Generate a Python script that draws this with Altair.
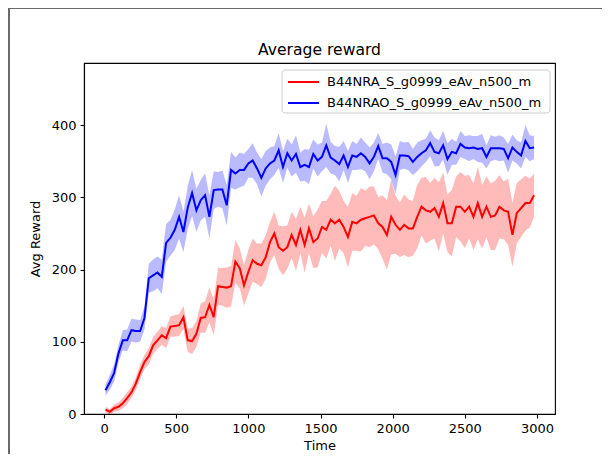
import altair as alt
import pandas as pd

# sample times (regular evaluation grid)
times = list(range(10, 3000, 30))

name_red = "B44NRA_S_g0999_eAv_n500_m"
name_blue = "B44NRAO_S_g0999_eAv_n500_m"
title_text = ["Average reward"]

blue_mean = [33, 44, 57, 84, 102, 102, 116, 115, 115, 133,
             188, 192, 196, 190, 237, 244, 255, 273, 252, 286,
             306, 282, 296, 303, 273, 310, 311, 311, 289, 338,
             333, 338, 338, 347, 351, 340, 327, 340, 347, 351,
             365, 342, 361, 351, 360, 342, 345, 342, 360, 351,
             356, 372, 355, 351, 346, 358, 342, 358, 356, 361,
             356, 347, 356, 371, 354, 354, 349, 331, 358, 358,
             357, 349, 356, 361, 365, 375, 363, 361, 372, 353,
             363, 361, 374, 369, 368, 369, 367, 368, 356, 368,
             368, 368, 367, 354, 369, 363, 358, 378, 368, 369]

blue_spread = [8, 10, 12, 12, 14, 15, 16, 16, 15, 16,
               20, 22, 22, 24, 26, 25, 28, 30, 28, 30,
               32, 30, 28, 30, 30, 26, 24, 26, 28, 25,
               22, 24, 22, 20, 24, 22, 26, 24, 22, 20,
               24, 22, 20, 22, 26, 20, 22, 24, 20, 22,
               20, 30, 22, 20, 24, 20, 22, 20, 18, 22,
               20, 22, 20, 18, 20, 22, 24, 26, 20, 18,
               20, 18, 20, 18, 16, 18, 20, 18, 20, 22,
               18, 16, 18, 16, 18, 16, 18, 20, 16, 18,
               16, 18, 16, 20, 18, 16, 18, 22, 18, 16]

red_mean = [6, 3, 8, 10, 15, 22, 30, 42, 58, 72,
            80, 95, 102, 109, 105, 121, 122, 123, 134, 102,
            101, 111, 133, 134, 151, 134, 177, 176, 175, 177,
            211, 202, 178, 197, 213, 208, 206, 217, 238, 250,
            231, 226, 231, 248, 234, 255, 234, 257, 238, 243,
            259, 255, 269, 264, 269, 259, 245, 266, 264, 269,
            271, 273, 275, 264, 259, 248, 273, 262, 255, 262,
            257, 257, 273, 287, 282, 280, 285, 273, 292, 264,
            264, 287, 287, 280, 287, 273, 292, 273, 287, 273,
            275, 287, 282, 280, 248, 278, 285, 292, 292, 303]

red_spread = [4, 4, 5, 6, 7, 8, 8, 9, 10, 10,
              11, 12, 12, 13, 14, 14, 15, 15, 16, 16,
              18, 18, 20, 22, 24, 25, 26, 26, 28, 28,
              30, 28, 28, 30, 30, 28, 30, 30, 28, 30,
              30, 34, 30, 32, 36, 32, 38, 34, 36, 40,
              36, 40, 36, 52, 40, 36, 42, 40, 38, 44,
              38, 42, 40, 36, 44, 48, 52, 40, 38, 42,
              40, 38, 44, 40, 46, 40, 42, 48, 42, 40,
              46, 42, 48, 50, 44, 46, 50, 44, 42, 46,
              48, 44, 40, 46, 44, 42, 40, 38, 34, 30]

x_ticks = [0, 500, 1000, 1500, 2000, 2500, 3000]
y_ticks = [0, 100, 200, 300, 400]

rows = []
for name, m, s in [(name_red, red_mean, red_spread), (name_blue, blue_mean, blue_spread)]:
    for t, v, d in zip(times, m, s):
        rows.append({"Time": t, "mean": v, "lo": v - d, "hi": v + d,
                     "series": name, "band": name + " band"})
df = pd.DataFrame(rows)
title_df = pd.DataFrame({"t": title_text})

FONT = "DejaVu Sans"
dom = [name_red, name_blue]

axis_style = dict(grid=False, tickSize=4, labelPadding=4, labelFontSize=13,
                  titleFontSize=13, titleFontWeight="normal", labelFont=FONT,
                  titleFont=FONT, domainColor="black", tickColor="black",
                  labelColor="black", titleColor="black", labelFlush=False,
                  format="d", domainWidth=1.1, tickWidth=1.1)

xenc = alt.X("Time:Q", scale=alt.Scale(domain=[-139, 3125], nice=False, zero=False),
             axis=alt.Axis(values=x_ticks, title="Time", titlePadding=4, **axis_style))
yscale = alt.Scale(domain=[0, 486], nice=False)

bands = alt.Chart(df).mark_area(opacity=0.27).encode(
    x=xenc,
    y=alt.Y("lo:Q", scale=yscale),
    y2="hi:Q",
    fill=alt.Fill("band:N", scale=alt.Scale(domain=[name_red + " band", name_blue + " band"],
                                            range=["#ff0000", "#0000ff"]), legend=None),
)

lines = alt.Chart(df).mark_line(strokeWidth=2).encode(
    x=xenc,
    y=alt.Y("mean:Q", scale=yscale,
            axis=alt.Axis(values=y_ticks, title="Avg Reward", titlePadding=9, **axis_style)),
    stroke=alt.Stroke("series:N", scale=alt.Scale(domain=dom, range=["#ff0000", "#0000ff"]),
                      legend=alt.Legend(title=None, orient="none", legendX=198, legendY=7,
                                        symbolType="M-0.857,0H3.571", symbolSize=196,
                                        symbolStrokeWidth=2, labelOffset=25,
                                        labelFontSize=13, labelFont=FONT, labelColor="black",
                                        padding=4, rowPadding=6, labelLimit=400)),
    order="Time:Q",
)

# legend frame (decoration)
legend_box = alt.Chart(title_df).mark_rect(fill="white", fillOpacity=0.85, stroke="#cccccc",
                                          strokeWidth=1, cornerRadius=3).encode(
    x=alt.value(198), x2=alt.value(466), y=alt.value(7), y2=alt.value(50))

title = alt.Chart(title_df).mark_text(font=FONT, fontSize=15.6, color="black",
                                      baseline="alphabetic", align="center").encode(
    text="t:N", x=alt.value(235.5), y=alt.value(-8))

frame_left = alt.Chart(title_df).mark_rule(color="#6a6a6a", strokeWidth=2).encode(
    x=alt.value(-75), y=alt.value(-55), y2=alt.value(400))
frame_top = alt.Chart(title_df).mark_rule(color="#6a6a6a", strokeWidth=2).encode(
    x=alt.value(-76), x2=alt.value(530), y=alt.value(-55))

chart = alt.layer(bands, lines, legend_box, title, frame_left, frame_top).properties(
    width=471, height=351,
    autosize=alt.AutoSizeParams(type="none"),
    padding={"left": 76, "top": 55, "right": 47, "bottom": 40},
    background="white",
).configure_view(stroke="black", strokeWidth=1.1)

chart.save("out.html", embed_options={"renderer": "svg", "actions": False})
